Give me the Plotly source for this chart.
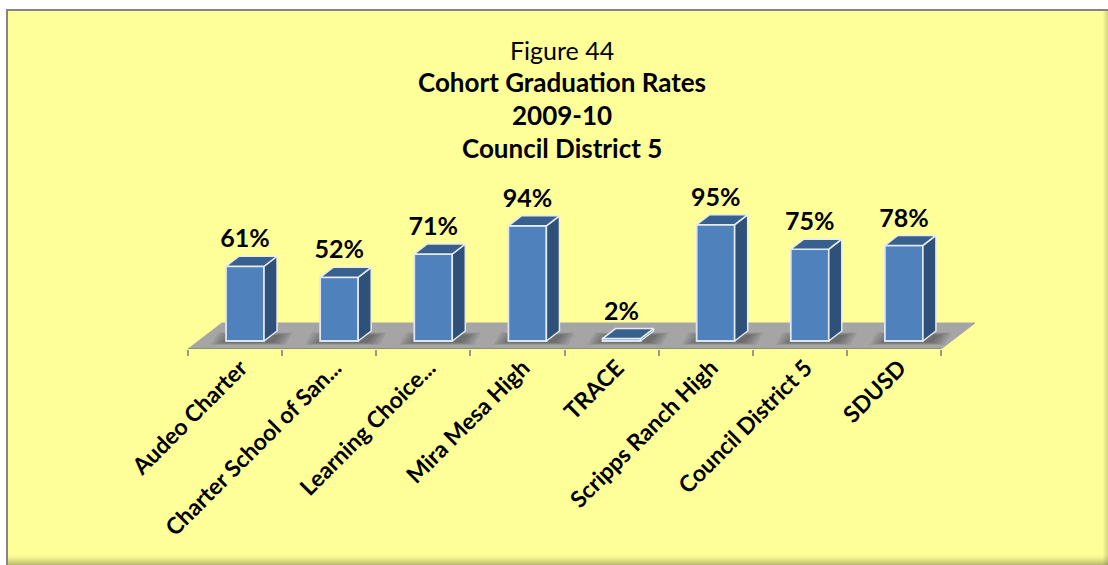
import plotly.graph_objects as go

categories = ["Audeo Charter", "Charter School of San...", "Learning Choice...", "Mira Mesa High",
              "TRACE", "Scripps Ranch High", "Council District 5", "SDUSD"]
values = [61, 52, 71, 94, 2, 95, 75, 78]
labels = ["61%", "52%", "71%", "94%", "2%", "95%", "75%", "78%"]
title_lines = ["Figure 44", "<b>Cohort Graduation Rates</b>", "<b>2009-10</b>", "<b>Council District 5</b>"]

W, H = 1108, 565
FONT = "Lato"
PX_X = 94.125   # pixels per category
PX_Y = 1.225    # pixels per percent
X0, XR = 188, 985   # plot area in pixels
Y_AXIS, Y_TOP = 349, 20
FRONT = -0.096
BAR_W = 0.404
SIDE_DX = 13 / PX_X
SIDE_DY = 10 / PX_Y

idx = list(range(len(categories)))
x_range = [-0.5, -0.5 + (XR - X0) / PX_X]
y_low = -(Y_AXIS - 341) / PX_Y
y_range = [y_low, y_low + (Y_AXIS - Y_TOP) / PX_Y]

fig = go.Figure()


def polys(builder):
    xs, ys = [], []
    for i, v in zip(idx, values):
        px, py = builder(i, v)
        xs += px + [None]
        ys += py + [None]
    return xs, ys


def side(i, v):
    r = i + FRONT + BAR_W
    return [r, r + SIDE_DX, r + SIDE_DX, r, r], [0, SIDE_DY, v + SIDE_DY, v, 0]


def top(i, v):
    l = i + FRONT
    r = l + BAR_W
    return [l, r, r + SIDE_DX, l + SIDE_DX, l], [v, v, v + SIDE_DY, v + SIDE_DY, v]


fig.add_trace(go.Bar(x=idx, y=values, width=BAR_W, offset=FRONT,
                     marker=dict(color="#4f81bd", line=dict(color="#dde6f0", width=1.8)),
                     hoverinfo="skip", showlegend=False))
for builder, color in ((side, "#2f5078"), (top, "#38608f")):
    xs, ys = polys(builder)
    fig.add_trace(go.Scatter(x=xs, y=ys, mode="lines", fill="toself", fillcolor=color,
                             line=dict(color="#e6ecf0", width=1.5), hoverinfo="skip", showlegend=False))

fig.add_trace(go.Scatter(x=[i + FRONT + BAR_W / 2 for i in idx], y=[v + 20.5 for v in values],
                         mode="text", text=labels, textposition="middle center",
                         textfont=dict(family=FONT, size=25, color="#000000", weight="bold"),
                         hoverinfo="skip", showlegend=False))

shapes = []
# chart panel
shapes.append(dict(type="rect", xref="paper", yref="paper", x0=7 / W, x1=1, y0=0, y1=1 - 10 / H,
                   fillcolor="#ffff99", line=dict(width=0), layer="below"))
shapes.append(dict(type="rect", xref="paper", yref="paper", x0=6 / W, x1=8 / W, y0=0, y1=1 - 9 / H,
                   fillcolor="#858585", line=dict(width=0), layer="below"))
shapes.append(dict(type="rect", xref="paper", yref="paper", x0=6 / W, x1=1, y0=1 - 11 / H, y1=1 - 9 / H,
                   fillcolor="#858585", line=dict(width=0), layer="below"))
# soft edge along the bottom and right of the panel
for k in range(10):
    op = 0.015 + 0.007 * k
    shapes.append(dict(type="rect", xref="paper", yref="paper", x0=8 / W, x1=1,
                       y0=0, y1=(10 - k) / H, fillcolor=f"rgba(90,90,50,{op:.3f})",
                       line=dict(width=0), layer="below"))
for k in range(5):
    shapes.append(dict(type="rect", xref="paper", yref="paper", x0=(W - 5 + k) / W, x1=1,
                       y0=0, y1=1 - 11 / H, fillcolor="rgba(90,90,50,0.05)",
                       line=dict(width=0), layer="below"))

# floor of the chart
f_dx = 34 / PX_X
f_back = (Y_AXIS - 323) / PX_Y + y_low
path = (f"M {-0.5} {y_low} L {7.5} {y_low} L {7.5 + f_dx} {f_back} "
        f"L {-0.5 + f_dx} {f_back} Z")
shapes.append(dict(type="path", path=path, xref="x", yref="y", fillcolor="#a5a5a5",
                   line=dict(color="#a5a5a5", width=1), layer="below"))
shapes.append(dict(type="line", xref="x", yref="y", x0=-0.5, x1=7.5, y0=y_low, y1=y_low,
                   line=dict(color="#8f8f78", width=2), layer="below"))
# blurred shadow round the foot of each bar
for i in idx:
    for k in range(5):
        grow = (4 - k) * 3 / PX_X
        l = i + FRONT - 0.03 - grow
        r = i + FRONT + BAR_W + 0.1 + grow
        b = -1.5 - (4 - k) * 0.4
        t = 5 + (4 - k) * 0.5
        s = 7 / PX_X
        shapes.append(dict(type="path", xref="x", yref="y",
                           path=f"M {l} {b} L {r} {b} L {r + s} {t} L {l + s} {t} Z",
                           fillcolor="rgba(40,40,40,0.10)", line=dict(width=0), layer="below"))

annotations = []
for text, py, size in zip(title_lines, (50, 82, 115, 148), (25, 26, 26, 26)):
    annotations.append(dict(text=text, xref="paper", yref="paper", x=562 / W, y=1 - py / H,
                            xanchor="center", yanchor="middle", showarrow=False,
                            font=dict(family=FONT, size=size, color="#000000")))

fig.update_layout(
    width=W, height=H, margin=dict(l=0, r=0, t=0, b=0, autoexpand=False), autosize=False,
    paper_bgcolor="#ffffff", plot_bgcolor="rgba(0,0,0,0)", showlegend=False,
    shapes=shapes, annotations=annotations,
    xaxis=dict(domain=[X0 / W, XR / W], range=x_range, tickmode="array",
               tickvals=[i + 0.06 for i in idx],
               ticktext=categories, tickangle=-45, ticks="", showgrid=False, zeroline=False,
               automargin=False, showline=False,
               tickfont=dict(family=FONT, size=23, color="#000000", weight="bold"),
               minor=dict(tickvals=[i - 0.5 for i in idx] + [7.5], ticks="outside", ticklen=6,
                          tickwidth=1.5, tickcolor="#9a9a80", showgrid=False)),
    yaxis=dict(domain=[1 - Y_AXIS / H, 1 - Y_TOP / H], range=y_range, visible=False),
)

fig.write_html("out.html", config=dict(displayModeBar=False),
               post_script="document.body.style.margin='0';document.body.style.overflow='hidden';")
